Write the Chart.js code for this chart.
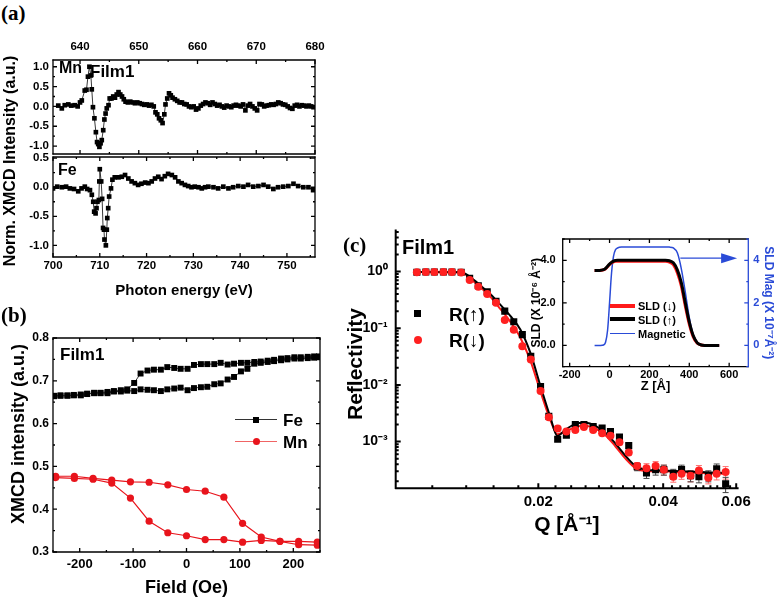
<!DOCTYPE html>
<html><head><meta charset="utf-8">
<script src="https://cdn.jsdelivr.net/npm/chart.js@4.4.1/dist/chart.umd.min.js"></script>
<style>
html,body{margin:0;padding:0;background:#fff}
#w{position:relative;width:778px;height:604px;overflow:hidden;background:#fff}
canvas{position:absolute}
.t{position:absolute;font-family:'Liberation Sans',Arial,sans-serif;font-weight:bold;line-height:1;white-space:nowrap;transform:translateY(-50%);color:#000}
.s{font-family:'Liberation Serif','Times New Roman',serif}
.r{transform:translate(-50%,-50%) rotate(-90deg)}
.m{position:absolute}
</style></head><body>
<div id="w">
<canvas id="cMn" width="330" height="128" style="left:0;top:30px"></canvas>
<canvas id="cFe" width="330" height="155" style="left:0;top:149px"></canvas>
<canvas id="cB" width="330" height="279" style="left:0;top:325px"></canvas>
<canvas id="cC" width="448" height="384" style="left:330px;top:220px"></canvas>
<canvas id="cIn" width="258" height="175" style="left:520px;top:225px"></canvas>

<div class="t s" style="left:1px;top:13px;font-size:21px">(a)</div>
<div class="t s" style="left:1px;top:315px;font-size:21px">(b)</div>
<div class="t s" style="left:343px;top:245px;font-size:21px">(c)</div>
<div class="t" style="left:59px;top:68px;font-size:16px">Mn</div>
<div class="t" style="left:90px;top:71px;font-size:17px">Film1</div>
<div class="t" style="left:58px;top:170px;font-size:16px">Fe</div>
<div class="t r" style="left:10px;top:161px;font-size:16px">Norm. XMCD Intensity (a.u.)</div>
<div class="t r" style="left:18px;top:434px;font-size:18px">XMCD intensity (a.u.)</div>
<div class="t r" style="left:353.5px;top:364px;font-size:21px">Reflectivity</div>
<div class="t" style="left:60px;top:354px;font-size:17px">Film1</div>
<div class="m" style="left:235px;top:419px;width:42px;height:1.4px;background:#333"></div>
<div class="m" style="left:253px;top:417px;width:6px;height:6px;background:#000"></div>
<div class="t" style="left:283px;top:420px;font-size:17px">Fe</div>
<div class="m" style="left:235px;top:441px;width:42px;height:1.4px;background:#f06464"></div>
<div class="m" style="left:252.5px;top:438.2px;width:7px;height:7px;border-radius:50%;background:#e8141c"></div>
<div class="t" style="left:283px;top:442px;font-size:17px">Mn</div>
<div class="t" style="left:402px;top:247px;font-size:20px">Film1</div>
<div class="m" style="left:414px;top:309.8px;width:7px;height:7px;background:#000"></div>
<div class="t" style="left:449px;top:314px;font-size:19px">R(↑)</div>
<div class="m" style="left:413.7px;top:336px;width:8px;height:8px;border-radius:50%;background:#ff2020"></div>
<div class="t" style="left:449px;top:340px;font-size:19px">R(↓)</div>
<div class="m" style="left:610px;top:304px;width:25px;height:4px;background:#ff1a1a"></div>
<div class="t" style="left:638px;top:306px;font-size:11px">SLD (↓)</div>
<div class="m" style="left:610px;top:317.3px;width:25px;height:4px;background:#000"></div>
<div class="t" style="left:638px;top:319.5px;font-size:11px">SLD (↑)</div>
<div class="m" style="left:610px;top:332.5px;width:25px;height:1.6px;background:#2a4bd7"></div>
<div class="t" style="left:638px;top:333.5px;font-size:11px">Magnetic</div>
</div>
<script>
// ---------- data: panel (a) Mn L-edge XMCD ----------
const mnEnergy = [636.3,636.9,637.4,638.0,638.5,639.1,639.6,640.0,640.3,640.8,641.1,641.35,641.6,641.85,642.0,642.2,642.45,642.7,642.9,643.1,643.3,643.5,643.7,643.95,644.15,644.35,644.55,644.85,645.05,645.35,645.65,645.95,646.25,646.55,646.85,647.15,647.45,647.75,648.15,648.55,648.95,649.35,649.75,650.15,650.55,650.95,651.35,651.75,652.15,652.55,652.85,653.15,653.45,653.75,654.05,654.35,654.55,654.85,655.15,655.45,655.75,656.15,656.55,656.95,657.35,657.75,658.15,658.55,658.95,659.35,659.75,660.15,660.55,660.95,661.35,661.75,662.15,662.55,662.95,663.35,663.75,664.15,664.55,664.95,665.35,665.75,666.15,666.55,666.95,667.35,667.75,668.15,668.55,668.95,669.35,669.75,670.15,670.55,670.95,671.35,671.75,672.15,672.55,672.95,673.35,673.75,674.15,674.55,674.95,675.35,675.75,676.15,676.55,676.95,677.35,677.75,678.15,678.55,678.95,679.35,679.75];
const mnXmcd = [0.02,-0.05,0.03,0.05,0.02,0.03,0.0,0.1,0.15,0.4,0.42,0.75,1.0,0.78,0.43,-0.02,-0.3,-0.65,-0.9,-0.95,-1.02,-0.93,-0.85,-0.6,-0.33,-0.18,-0.05,0.03,0.2,0.2,0.25,0.22,0.3,0.36,0.3,0.25,0.18,0.12,0.1,0.12,0.1,0.08,0.1,0.08,0.06,0.04,0.05,0.02,0.04,0.0,-0.15,-0.2,-0.3,-0.35,-0.42,-0.2,0.05,0.2,0.33,0.28,0.22,0.18,0.14,0.1,0.1,0.06,0.05,0.0,-0.02,0.0,-0.08,-0.05,0.02,0.06,0.1,0.08,0.04,0.1,0.06,0.02,0.04,0.0,-0.03,0.02,0.0,-0.02,0.02,0.04,0.02,0.0,0.05,-0.1,0.02,0.06,0.0,-0.05,-0.1,0.06,0.05,0.0,0.02,0.03,0.05,0.04,0.06,0.1,0.08,0.05,0.04,0.0,-0.04,-0.06,0.02,0.04,0.0,0.03,0.02,0.0,0.02,0.0,-0.02];
// ---------- data: panel (a) Fe L-edge XMCD ----------
const feEnergy = [700.0,700.9,701.9,702.8,703.6,704.5,705.4,706.1,706.8,707.3,707.9,708.3,708.6,708.8,709.1,709.3,709.5,709.8,709.9,710.0,710.3,710.5,710.7,710.9,711.0,711.3,711.5,711.6,711.8,712.0,712.4,712.7,713.2,714.0,714.7,715.4,716.1,716.8,717.5,718.2,718.9,719.7,720.4,721.1,721.8,722.5,723.2,723.9,724.6,725.4,726.1,726.8,727.5,728.2,728.9,729.6,730.3,731.1,731.8,732.5,733.2,734.3,735.3,736.4,737.5,738.5,739.6,740.7,741.7,742.8,743.9,745.0,746.0,747.1,748.1,749.2,750.3,751.4,752.4,753.5,754.6,755.6];
const feXmcd = [-0.02,0.01,0.0,0.01,-0.02,-0.03,-0.07,-0.02,0.01,-0.03,-0.05,-0.13,-0.25,-0.42,-0.45,-0.36,-0.25,-0.22,0.1,0.31,0.1,-0.2,-0.7,-0.73,-0.9,-1.0,-0.73,-0.53,-0.36,-0.16,-0.02,0.13,0.17,0.17,0.18,0.21,0.15,0.1,0.07,0.04,0.06,0.08,0.07,0.1,0.15,0.18,0.14,0.19,0.23,0.21,0.17,0.1,0.07,0.04,0.02,0.0,0.01,0.0,-0.02,0.0,0.01,0.0,-0.02,0.01,-0.02,0.0,0.02,0.01,0.04,0.01,0.02,0.04,0.01,-0.03,0.0,0.01,0.02,0.06,0.02,0.0,0.0,-0.05];
// ---------- data: panel (b) hysteresis ----------
const feField = [-248,-236,-223,-211,-198,-186,-173,-161,-148,-136,-123,-111,-98,-86,-73,-61,-48,-36,-23,-11,2,14,27,39,52,64,77,89,102,114,127,139,152,164,177,189,202,214,227,239,248];
const feBranchA = [0.664,0.666,0.666,0.667,0.668,0.670,0.671,0.671,0.674,0.676,0.678,0.680,0.695,0.717,0.724,0.726,0.726,0.732,0.730,0.728,0.728,0.737,0.739,0.739,0.739,0.742,0.738,0.740,0.742,0.742,0.744,0.745,0.747,0.749,0.752,0.753,0.755,0.755,0.756,0.757,0.757];
const feBranchB = [0.665,0.665,0.665,0.666,0.666,0.669,0.672,0.672,0.671,0.675,0.675,0.677,0.676,0.680,0.679,0.678,0.676,0.680,0.682,0.684,0.678,0.683,0.685,0.686,0.692,0.694,0.703,0.709,0.722,0.728,0.740,0.742,0.744,0.746,0.748,0.750,0.752,0.752,0.753,0.754,0.755];
const mnField = [-245,-210,-175,-140,-105,-70,-35,0,35,70,105,140,175,210,245];
const mnBranchA = [0.477,0.477,0.472,0.468,0.464,0.463,0.457,0.446,0.442,0.428,0.367,0.335,0.325,0.317,0.316];
const mnBranchB = [0.474,0.472,0.470,0.461,0.426,0.372,0.345,0.338,0.329,0.329,0.323,0.327,0.325,0.325,0.323];
// ---------- data: panel (c) reflectivity ----------
const qData = [0.01019,0.01071,0.01123,0.01181,0.01238,0.01303,0.01366,0.01433,0.01506,0.01581,0.0166,0.01745,0.0183,0.01918,0.02025,0.0212,0.02227,0.02337,0.02456,0.02576,0.02712,0.0285,0.02985,0.03138,0.03304,0.03462,0.03646,0.03836,0.04015,0.04231,0.0443,0.04657,0.04878,0.0514,0.05383,0.05658];
const rUp = [0.97,0.98,0.98,0.98,0.98,0.97,0.76,0.56,0.44,0.30,0.20,0.13,0.077,0.032,0.0094,0.0028,0.0011,0.0013,0.0020,0.0020,0.00185,0.00173,0.0015,0.0012,0.00085,0.00036,0.00028,0.00032,0.00032,0.00027,0.00032,0.00025,0.00024,0.00025,0.00033,0.00018];
const rDown = [0.97,0.98,0.98,0.98,0.98,0.96,0.71,0.54,0.40,0.28,0.14,0.094,0.048,0.028,0.0078,0.0027,0.0017,0.0015,0.0016,0.0018,0.0016,0.0014,0.00127,0.00097,0.00064,0.00037,0.00034,0.00037,0.00032,0.00024,0.00027,0.00025,0.00031,0.00023,0.00027,0.00029];
const errUp = [0.01,0.01,0.01,0.01,0.01,0.01,0.01,0.01,0.01,0.01,0.01,0.01,0.01,0.01,0.03,0.05,0.08,0.08,0.06,0.06,0.06,0.06,0.08,0.1,0.1,0.15,0.2,0.2,0.2,0.2,0.2,0.22,0.22,0.22,0.22,0.3];
const errDown = [0.01,0.01,0.01,0.01,0.01,0.01,0.01,0.01,0.01,0.01,0.01,0.01,0.01,0.01,0.03,0.05,0.08,0.08,0.06,0.06,0.06,0.06,0.08,0.1,0.1,0.15,0.2,0.2,0.2,0.2,0.2,0.22,0.22,0.22,0.22,0.25];
const fitQ = [0.0101,0.01303,0.0137,0.01449,0.01531,0.01619,0.01712,0.0181,0.01913,0.02022,0.02138,0.02223,0.02324,0.02457,0.02598,0.02746,0.02903,0.0307,0.03245,0.03431,0.03627,0.03942,0.04406,0.04925,0.05658];
const fitUp = [0.98,0.975,0.80,0.57,0.40,0.26,0.165,0.095,0.037,0.0098,0.0027,0.00126,0.00162,0.00205,0.00215,0.0019,0.00143,0.00092,0.00056,0.00037,0.00032,0.00031,0.0003,0.00029,0.00028];
const fitDown = [0.98,0.97,0.75,0.53,0.36,0.22,0.13,0.068,0.027,0.0078,0.0024,0.00135,0.0015,0.0018,0.0019,0.0017,0.0013,0.00082,0.0005,0.00034,0.0003,0.0003,0.00029,0.00028,0.00027];
// ---------- data: inset SLD profiles ----------
const zProf = [-75,-50,-30,-20,-10,0,10,20,30,40,60,100,200,280,300,320,340,360,380,400,420,440,460,480,500,550];
const sldUp = [3.52,3.52,3.56,3.62,3.72,3.82,3.9,3.96,3.99,4.0,4.0,4.0,4.0,4.0,3.98,3.88,3.55,2.95,2.0,1.1,0.45,0.12,0.02,0.0,0.0,0.0];
const sldDown = [3.52,3.52,3.55,3.6,3.7,3.8,3.88,3.93,3.95,3.95,3.95,3.95,3.95,3.95,3.92,3.8,3.42,2.8,1.85,1.0,0.4,0.1,0.02,0.0,0.0,0.0];
const magProf = [0,0,0.02,0.15,0.7,2.0,3.4,4.2,4.5,4.58,4.62,4.62,4.62,4.62,4.62,4.58,4.35,3.6,2.5,1.3,0.5,0.15,0.03,0,0,0];
// ---------- tick labels ----------
const mnTicks = [640,650,660,670,680];
const feTicks = [700,710,720,730,740,750];
const aYTicksMn = [-1,-0.5,0,0.5,1];
const aYTicksFe = [-1,-0.5,0,0.5];
const bXTicks = [-200,-100,0,100,200];
const bYTicks = [0.3,0.4,0.5,0.6,0.7,0.8];
const cXTicks = [0.02,0.04,0.06];
const cYTicks = [1e-3,1e-2,1e-1,1];
const inXTicks = [-200,0,200,400,600];
const inYTicks = [0,2,4];

// ---------- helpers ----------
const supMap = {'-':'⁻','0':'⁰','1':'¹','2':'²','3':'³','4':'⁴','5':'⁵','6':'⁶','7':'⁷','8':'⁸','9':'⁹'};
const toSup = n => String(n).split('').map(c => supMap[c]).join('');
const pts = (xs, ys) => xs.map((x, i) => ({x: x, y: ys[i]}));
const noPad = s => { s.paddingTop = 0; s.paddingBottom = 0; s.paddingLeft = 0; s.paddingRight = 0; };
const fixW = w => s => { s.width = w; noPad(s); };
const fixH = h => s => { s.height = h; noPad(s); };
const ticksAt = vals => s => { s.ticks = vals.map(v => ({value: v})); };
const steps = (a, b, st) => { const r = []; for (let v = a; v <= b + 1e-9; v += st) r.push(+v.toFixed(6)); return r; };
const logMinor = (lo, hi) => { const r = []; for (let k = -5; k <= 1; k++) for (let m = 2; m <= 9; m++) { const v = m * Math.pow(10, k); if (v >= lo && v <= hi) r.push(v); } return r; };

Chart.defaults.font.family = "'Liberation Sans', Arial, sans-serif";
Chart.defaults.font.weight = 'bold';
Chart.defaults.color = '#000';
Chart.defaults.animation = false;
Chart.defaults.events = [];
Chart.defaults.plugins.legend.display = false;
Chart.defaults.plugins.tooltip.enabled = false;

function ax(o) {
  return {
    type: o.type || 'linear', position: o.position, min: o.min, max: o.max, bounds: 'data',
    grid: {display: false, drawTicks: false}, border: {display: false},
    afterBuildTicks: ticksAt(o.ticks),
    afterFit: (o.w !== undefined) ? fixW(o.w) : fixH(o.h),
    ticks: {autoSkip: false, maxRotation: 0, minRotation: 0, padding: o.pad, color: o.color || '#000',
            font: {size: o.fs || 12, weight: 'bold'}, callback: o.fmt},
    title: o.title ? {display: true, text: o.title, color: o.color || '#000',
                      font: {size: o.tfs, weight: 'bold'}, padding: o.tpad} : {display: false}
  };
}

// frame + inward ticks
const frame = {
  id: 'frame',
  afterDatasetsDraw(chart, args, o) {
    if (!o || !o.edges) return;
    const ctx = chart.ctx, a = chart.chartArea;
    ctx.save();
    for (const e of o.edges) {
      ctx.strokeStyle = e.color || '#000';
      ctx.lineWidth = e.width || 1.3;
      const s = chart.scales[e.scale];
      const horiz = (e.side === 'top' || e.side === 'bottom');
      const pos = {top: a.top, bottom: a.bottom, left: a.left, right: a.right}[e.side];
      const dir = (e.side === 'top' || e.side === 'left') ? 1 : -1;
      ctx.beginPath();
      if (horiz) { ctx.moveTo(a.left - 0.6, pos); ctx.lineTo(a.right + 0.6, pos); }
      else { ctx.moveTo(pos, a.top - 0.6); ctx.lineTo(pos, a.bottom + 0.6); }
      const draw = (vals, len) => (vals || []).forEach(v => {
        const p = s.getPixelForValue(v);
        if (horiz) { if (p < a.left - 0.5 || p > a.right + 0.5) return; ctx.moveTo(p, pos); ctx.lineTo(p, pos + dir * len); }
        else { if (p < a.top - 0.5 || p > a.bottom + 0.5) return; ctx.moveTo(pos, p); ctx.lineTo(pos + dir * len, p); }
      });
      draw(e.major, e.len || 4);
      draw(e.minor, e.mlen || 2);
      ctx.stroke();
    }
    ctx.restore();
  }
};

// vertical error bars for datasets carrying errFrac
const errBars = {
  id: 'errbars',
  beforeDatasetsDraw(chart) {
    const ctx = chart.ctx;
    ctx.save();
    chart.data.datasets.forEach((ds) => {
      if (!ds.errFrac) return;
      const xs = chart.scales[ds.xAxisID || 'x'], ys = chart.scales[ds.yAxisID || 'y'];
      ctx.strokeStyle = ds.errColor; ctx.lineWidth = 1;
      ctx.beginPath();
      ds.data.forEach((p, j) => {
        const f = ds.errFrac[j];
        const px = xs.getPixelForValue(p.x);
        const y1 = ys.getPixelForValue(p.y * (1 + f)), y2 = ys.getPixelForValue(p.y * (1 - f));
        ctx.moveTo(px, y1); ctx.lineTo(px, y2);
        ctx.moveTo(px - 3, y1); ctx.lineTo(px + 3, y1);
        ctx.moveTo(px - 3, y2); ctx.lineTo(px + 3, y2);
      });
      ctx.stroke();
    });
    ctx.restore();
  }
};

// arrow annotation in inset
const arrow = {
  id: 'arrow',
  afterDatasetsDraw(chart, args, o) {
    if (!o || o.x0 === undefined) return;
    const ctx = chart.ctx, xs = chart.scales.x, ys = chart.scales[o.yScale];
    const x0 = xs.getPixelForValue(o.x0), x1 = xs.getPixelForValue(o.x1), y = ys.getPixelForValue(o.y);
    ctx.save();
    ctx.strokeStyle = o.color; ctx.fillStyle = o.color; ctx.lineWidth = 1.4;
    ctx.beginPath(); ctx.moveTo(x0, y); ctx.lineTo(x1 - 12, y); ctx.stroke();
    ctx.beginPath(); ctx.moveTo(x1, y); ctx.lineTo(x1 - 16, y - 5); ctx.lineTo(x1 - 16, y + 5); ctx.closePath(); ctx.fill();
    ctx.restore();
  }
};

const base = (pad) => ({responsive: false, maintainAspectRatio: false, layout: {padding: pad}});

// ---------- (a) Mn ----------
new Chart(document.getElementById('cMn'), {
  type: 'scatter',
  data: {datasets: [{data: pts(mnEnergy, mnXmcd), showLine: true, borderColor: '#222', borderWidth: 0.9,
    pointStyle: 'rect', pointRadius: 3.3, pointBackgroundColor: '#000', pointBorderWidth: 0}]},
  options: Object.assign(base({left: 0, right: 15, top: 0, bottom: 1}), {
    scales: {
      x: ax({position: 'top', min: 635.4, max: 680, ticks: mnTicks, h: 30, pad: 6.5, fs: 11.5, fmt: v => String(v)}),
      y: ax({position: 'left', min: -1.2, max: 1.17, ticks: aYTicksMn, w: 53, pad: 4, fs: 11.5, fmt: v => v.toFixed(1)})
    },
    plugins: {frame: {edges: [
      {scale: 'x', side: 'top', major: mnTicks, minor: steps(635, 680, 5)},
      {scale: 'x', side: 'bottom', major: mnTicks, minor: steps(635, 680, 5)},
      {scale: 'y', side: 'left', major: aYTicksMn, minor: steps(-1, 1, 0.25)},
      {scale: 'y', side: 'right', major: aYTicksMn, minor: steps(-1, 1, 0.25)}]}}
  }),
  plugins: [frame]
});

// ---------- (a) Fe ----------
new Chart(document.getElementById('cFe'), {
  type: 'scatter',
  data: {datasets: [{data: pts(feEnergy, feXmcd), showLine: true, borderColor: '#222', borderWidth: 0.9,
    pointStyle: 'rect', pointRadius: 3.3, pointBackgroundColor: '#000', pointBorderWidth: 0}]},
  options: Object.assign(base({left: 0, right: 15, top: 8, bottom: 0}), {
    scales: {
      x: ax({position: 'bottom', min: 700, max: 756, ticks: feTicks, h: 47, pad: 2, fs: 11.5, fmt: v => String(v),
             title: 'Photon energy (eV)', tfs: 15, tpad: {top: 0, bottom: 4.3}}),
      y: ax({position: 'left', min: -1.2, max: 0.52, ticks: aYTicksFe, w: 53, pad: 4, fs: 11.5, fmt: v => v.toFixed(1)})
    },
    plugins: {frame: {edges: [
      {scale: 'x', side: 'top', major: feTicks, minor: steps(700, 755, 5)},
      {scale: 'x', side: 'bottom', major: feTicks, minor: steps(700, 755, 5)},
      {scale: 'y', side: 'left', major: aYTicksFe, minor: steps(-1, 0.5, 0.25)},
      {scale: 'y', side: 'right', major: aYTicksFe, minor: steps(-1, 0.5, 0.25)}]}}
  }),
  plugins: [frame]
});

// ---------- (b) hysteresis ----------
const feStyle = {showLine: true, borderColor: '#333', borderWidth: 1, pointStyle: 'rect', pointRadius: 4.2,
  pointBackgroundColor: '#000', pointBorderWidth: 0};
const mnStyle = {showLine: true, borderColor: '#e8141c', borderWidth: 1.2, pointStyle: 'circle', pointRadius: 3.6,
  pointBackgroundColor: '#e8141c', pointBorderWidth: 0};
new Chart(document.getElementById('cB'), {
  type: 'scatter',
  data: {datasets: [
    Object.assign({label: 'Fe', data: pts(feField, feBranchA)}, feStyle),
    Object.assign({label: 'Fe', data: pts(feField, feBranchB)}, feStyle),
    Object.assign({label: 'Mn', data: pts(mnField, mnBranchA)}, mnStyle),
    Object.assign({label: 'Mn', data: pts(mnField, mnBranchB)}, mnStyle)
  ]},
  options: Object.assign(base({left: 0, right: 10, top: 13, bottom: 0}), {
    scales: {
      x: ax({position: 'bottom', min: -250, max: 250, ticks: bXTicks, h: 52, pad: 5, fs: 13, fmt: v => String(v),
             title: 'Field (Oe)', tfs: 18, tpad: {top: 0, bottom: 5}}),
      y: ax({position: 'left', min: 0.3, max: 0.8, ticks: bYTicks, w: 53, pad: 4, fmt: v => v.toFixed(1)})
    },
    plugins: {frame: {edges: [
      {scale: 'x', side: 'top', major: bXTicks, minor: steps(-250, 250, 50)},
      {scale: 'x', side: 'bottom', major: bXTicks, minor: steps(-250, 250, 50)},
      {scale: 'y', side: 'left', major: bYTicks, minor: steps(0.3, 0.8, 0.05)},
      {scale: 'y', side: 'right', major: bYTicks, minor: steps(0.3, 0.8, 0.05)}]}}
  }),
  plugins: [frame]
});

// ---------- (c) reflectivity ----------
new Chart(document.getElementById('cC'), {
  type: 'scatter',
  data: {datasets: [
    {label: 'R(↓)', data: pts(qData, rDown), pointStyle: 'circle', pointRadius: 4, pointBackgroundColor: '#ff2020',
     pointBorderWidth: 0, errFrac: errDown, errColor: '#ff7070'},
    {label: 'R(↑)', data: pts(qData, rUp), pointStyle: 'rect', pointRadius: 5, pointBackgroundColor: '#000',
     pointBorderWidth: 0, errFrac: errUp, errColor: '#444'},
    {label: 'fit R(↑)', data: pts(fitQ, fitUp), showLine: true, borderColor: '#000', borderWidth: 2, pointRadius: 0,
     cubicInterpolationMode: 'monotone'},
    {label: 'fit R(↓)', data: pts(fitQ, fitDown), showLine: true, borderColor: '#ff1a1a', borderWidth: 2, pointRadius: 0,
     cubicInterpolationMode: 'monotone'}
  ]},
  options: Object.assign(base({left: 0, right: 40, top: 10, bottom: 0}), {
    scales: {
      x: ax({type: 'logarithmic', position: 'bottom', min: 0.00906, max: 0.0606, ticks: cXTicks, h: 115.7, pad: 4.4, fs: 15,
             fmt: v => v.toFixed(2), title: 'Q [Å⁻¹]', tfs: 21, tpad: {top: 0, bottom: 66.4}}),
      y: ax({type: 'logarithmic', position: 'left', min: 1.5e-4, max: 5.4, ticks: cYTicks, w: 65.7, pad: 8, fs: 14,
             fmt: v => '10' + toSup(Math.round(Math.log10(v)))})
    },
    plugins: {frame: {edges: [
      {scale: 'y', side: 'left', major: cYTicks, minor: logMinor(1.5e-4, 5.4), width: 2, len: 5, mlen: 3},
      {scale: 'x', side: 'bottom', major: cXTicks, minor: [0.0111, 0.0134, 0.0156, 0.0179, 0.022, 0.024, 0.026, 0.028, 0.030, 0.032, 0.034, 0.036, 0.038, 0.042, 0.044, 0.046, 0.048, 0.050, 0.052, 0.054, 0.056, 0.058], width: 2, len: 5, mlen: 3}]}}
  }),
  plugins: [errBars, frame]
});

// ---------- (c) inset SLD ----------
const blue = '#2a4bd7';
new Chart(document.getElementById('cIn'), {
  type: 'scatter',
  data: {datasets: [
    {label: 'SLD (↑)', data: pts(zProf, sldUp), showLine: true, borderColor: '#000', borderWidth: 3, pointRadius: 0, tension: 0.3, yAxisID: 'y'},
    {label: 'SLD (↓)', data: pts(zProf, sldDown), showLine: true, borderColor: '#ff1a1a', borderWidth: 3, pointRadius: 0, tension: 0.3, yAxisID: 'y'},
    {label: 'Magnetic', data: pts(zProf, magProf), showLine: true, borderColor: blue, borderWidth: 1.5, pointRadius: 0, tension: 0.3, yAxisID: 'y2'}
  ]},
  options: Object.assign(base({left: 0, right: 0, top: 14, bottom: 0}), {
    scales: {
      x: ax({position: 'bottom', min: -235, max: 696, ticks: inXTicks, h: 33.3, pad: 1.7, fs: 11, fmt: v => String(v),
             title: 'Z [Å]', tfs: 13, tpad: {top: 0, bottom: 5.5}}),
      y: ax({position: 'left', min: -1, max: 5, ticks: inYTicks, w: 42.7, pad: 7, fs: 11, fmt: v => v.toFixed(1),
             title: 'SLD (X 10⁻⁶ Å⁻²)', tfs: 12, tpad: {top: 9.8, bottom: 0}}),
      y2: ax({position: 'right', min: -1, max: 5, ticks: inYTicks, w: 29.7, pad: 5, fs: 11, color: blue, fmt: v => String(v),
             title: 'SLD Mag (X 10⁻⁷Å⁻²)', tfs: 12, tpad: {top: 2.8, bottom: 0}})
    },
    plugins: {
      frame: {edges: [
        {scale: 'x', side: 'top', major: inXTicks, minor: steps(-200, 600, 100)},
        {scale: 'x', side: 'bottom', major: inXTicks, minor: steps(-200, 600, 100)},
        {scale: 'y', side: 'left', major: inYTicks, minor: [-1, 1, 3, 5]},
        {scale: 'y2', side: 'right', major: inYTicks, minor: [-1, 1, 3, 5], color: blue}]},
      arrow: {x0: 355, x1: 640, y: 4.1, yScale: 'y2', color: blue}
    }
  }),
  plugins: [frame, arrow]
});
</script>
</body></html>
